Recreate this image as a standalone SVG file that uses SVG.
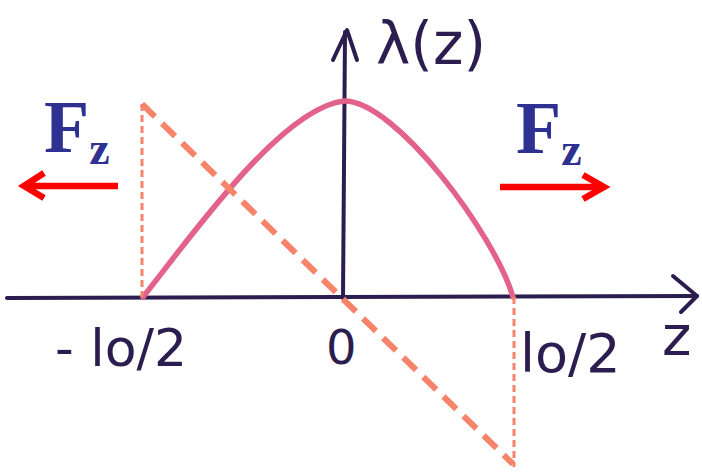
<svg xmlns="http://www.w3.org/2000/svg" width="702" height="473" viewBox="0 0 702 473">
<style>
.axis{stroke:#2b1d4f;stroke-width:4;fill:none;stroke-linecap:round;stroke-linejoin:round}
.hand{font-family:"DejaVu Sans","Liberation Sans",sans-serif;fill:#2b1d4f}
.fz{font-family:"Liberation Serif","Times New Roman",serif;font-weight:bold;fill:#2e3192}
.force{stroke:#ff0000;stroke-width:6.5;fill:none;stroke-linecap:butt;stroke-linejoin:miter}
.thin{stroke:#f7846a;stroke-width:3;stroke-dasharray:7 4;fill:none}
.thick{stroke:#f7846a;stroke-width:6;stroke-dasharray:18 10;fill:none}
</style>
<rect width="702" height="473" fill="#ffffff"/>
<g id="axes">
<line class="axis" x1="7" y1="298" x2="697" y2="296"/>
<polyline class="axis" points="673,276 697,296 681,312"/>
<line class="axis" x1="343" y1="298" x2="345" y2="32"/>
<polyline class="axis" points="333,60 347,30 357,60"/>
</g>
<g id="curve">
<path d="M143,297 C185,245 280,108 344,101 C395,100 495,235 513,297" stroke="#e3628a" stroke-width="5.5" fill="none" stroke-linecap="round"/>
</g>
<g id="dashed">
<line class="thin" x1="142" y1="104" x2="142" y2="297"/>
<line class="thin" x1="514" y1="297" x2="514" y2="467"/>
<line class="thick" x1="142" y1="104" x2="513" y2="464"/>
</g>
<g id="labels">
<text class="hand" x="376" y="64" font-size="58">λ(z)</text>
<text class="hand" x="55" y="366" font-size="52">- lo/2</text>
<text class="hand" x="326" y="364" font-size="48">0</text>
<text class="hand" x="520" y="372" font-size="54">lo/2</text>
<text class="hand" x="662" y="355" font-size="56">z</text>
</g>
<g id="force-left">
<text class="fz" x="44" y="152" font-size="74">F<tspan font-size="46" dy="12">z</tspan></text>
<line class="force" x1="118" y1="186" x2="26" y2="186"/>
<polyline class="force" points="44,173 24,186 44,198"/>
</g>
<g id="force-right">
<text class="fz" x="516" y="153" font-size="74">F<tspan font-size="46" dy="12">z</tspan></text>
<line class="force" x1="500" y1="187" x2="602" y2="187"/>
<polyline class="force" points="583,175 604,187 583,199"/>
</g>
</svg>
